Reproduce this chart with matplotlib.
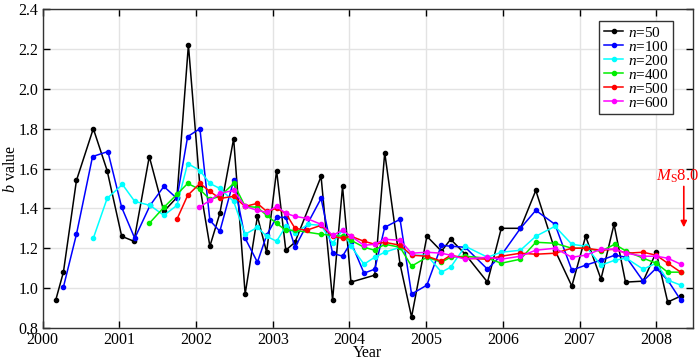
#b value time series for different sample window sizes n
import numpy as np
import matplotlib as mpl
import matplotlib.pyplot as plt

mpl.rcParams['font.family'] = ['Liberation Serif', 'DejaVu Serif']
mpl.rcParams['mathtext.fontset'] = 'custom'
mpl.rcParams['mathtext.rm'] = 'Liberation Serif'
mpl.rcParams['mathtext.it'] = 'Liberation Serif:italic'

#%%
#data
t_50 = [2000.17, 2000.27, 2000.44, 2000.66, 2000.84, 2001.03, 2001.19, 2001.39, 2001.58, 2001.75,
        2001.90, 2002.05, 2002.18, 2002.31, 2002.49, 2002.64, 2002.80, 2002.92, 2003.05, 2003.17,
        2003.29, 2003.63, 2003.78, 2003.91, 2004.02, 2004.33, 2004.46, 2004.66, 2004.81, 2005.01,
        2005.20, 2005.32, 2005.51, 2005.80, 2005.98, 2006.23, 2006.43, 2006.68, 2006.90, 2007.08,
        2007.28, 2007.45, 2007.60, 2007.83, 2008.00, 2008.15, 2008.32]
b_50 = [0.94, 1.08, 1.54, 1.80, 1.59, 1.26, 1.235, 1.66, 1.385, 1.455,
        2.22, 1.51, 1.21, 1.375, 1.75, 0.97, 1.36, 1.18, 1.59, 1.19,
        1.23, 1.56, 0.94, 1.51, 1.03, 1.065, 1.68, 1.12, 0.855, 1.26,
        1.185, 1.245, 1.17, 1.03, 1.30, 1.30, 1.49, 1.19, 1.01, 1.26,
        1.045, 1.32, 1.03, 1.035, 1.18, 0.93, 0.96]

t_100 = [2000.27, 2000.44, 2000.65, 2000.85, 2001.03, 2001.20, 2001.40, 2001.58, 2001.75, 2001.89,
         2002.05, 2002.18, 2002.31, 2002.49, 2002.64, 2002.80, 2002.92, 2003.05, 2003.17, 2003.29,
         2003.63, 2003.78, 2003.91, 2004.02, 2004.19, 2004.33, 2004.46, 2004.66, 2004.81, 2005.01,
         2005.20, 2005.32, 2005.51, 2005.80, 2005.98, 2006.23, 2006.43, 2006.68, 2006.90, 2007.08,
         2007.28, 2007.46, 2007.61, 2007.83, 2008.00, 2008.15, 2008.32]
b_100 = [1.005, 1.27, 1.66, 1.685, 1.405, 1.25, 1.415, 1.51, 1.45, 1.76,
         1.80, 1.34, 1.285, 1.54, 1.25, 1.13, 1.265, 1.355, 1.355, 1.205,
         1.45, 1.175, 1.16, 1.23, 1.075, 1.095, 1.305, 1.345, 0.97, 1.015,
         1.215, 1.21, 1.205, 1.095, 1.165, 1.30, 1.39, 1.32, 1.09, 1.115,
         1.14, 1.165, 1.155, 1.035, 1.10, 1.04, 0.94]

t_200 = [2000.66, 2000.84, 2001.04, 2001.20, 2001.40, 2001.58, 2001.75, 2001.89, 2002.05, 2002.18,
         2002.31, 2002.49, 2002.64, 2002.80, 2002.92, 2003.05, 2003.17, 2003.29, 2003.46, 2003.63,
         2003.78, 2003.91, 2004.02, 2004.19, 2004.33, 2004.46, 2004.66, 2004.81, 2005.01, 2005.20,
         2005.32, 2005.51, 2005.80, 2005.98, 2006.23, 2006.43, 2006.68, 2006.90, 2007.08, 2007.28,
         2007.46, 2007.61, 2007.83, 2008.00, 2008.15, 2008.32]
b_200 = [1.25, 1.45, 1.52, 1.435, 1.415, 1.365, 1.415, 1.625, 1.59, 1.525,
         1.50, 1.435, 1.27, 1.305, 1.26, 1.235, 1.31, 1.275, 1.32, 1.315,
         1.225, 1.29, 1.21, 1.12, 1.155, 1.18, 1.205, 1.165, 1.165, 1.08,
         1.105, 1.21, 1.155, 1.18, 1.19, 1.26, 1.31, 1.22, 1.21, 1.115,
         1.14, 1.15, 1.095, 1.125, 1.04, 1.015]

t_400 = [2001.39, 2001.58, 2001.75, 2001.89, 2002.05, 2002.18, 2002.31, 2002.49, 2002.64, 2002.80,
         2002.92, 2003.05, 2003.17, 2003.29, 2003.63, 2003.78, 2003.91, 2004.02, 2004.19, 2004.33,
         2004.46, 2004.66, 2004.81, 2005.01, 2005.20, 2005.32, 2005.51, 2005.80, 2005.98, 2006.23,
         2006.43, 2006.68, 2006.90, 2007.08, 2007.28, 2007.46, 2007.61, 2007.83, 2008.00, 2008.15,
         2008.32]
b_400 = [1.325, 1.405, 1.47, 1.525, 1.495, 1.445, 1.46, 1.525, 1.41, 1.405,
         1.365, 1.325, 1.29, 1.29, 1.27, 1.265, 1.26, 1.24, 1.205, 1.19,
         1.22, 1.205, 1.11, 1.155, 1.13, 1.155, 1.16, 1.15, 1.125, 1.145,
         1.23, 1.225, 1.20, 1.20, 1.185, 1.22, 1.185, 1.15, 1.125, 1.08,
         1.08]

t_500 = [2001.75, 2001.89, 2002.05, 2002.18, 2002.31, 2002.49, 2002.64, 2002.80, 2002.92, 2003.05,
         2003.17, 2003.29, 2003.44, 2003.63, 2003.78, 2003.91, 2004.02, 2004.19, 2004.33, 2004.46,
         2004.66, 2004.81, 2005.01, 2005.20, 2005.32, 2005.51, 2005.80, 2005.98, 2006.23, 2006.43,
         2006.68, 2006.90, 2007.08, 2007.28, 2007.46, 2007.61, 2007.83, 2008.00, 2008.15, 2008.32]
b_500 = [1.345, 1.465, 1.525, 1.485, 1.45, 1.46, 1.41, 1.425, 1.385, 1.40,
         1.375, 1.30, 1.29, 1.315, 1.26, 1.25, 1.26, 1.235, 1.22, 1.23,
         1.215, 1.165, 1.16, 1.135, 1.165, 1.15, 1.145, 1.16, 1.175, 1.17,
         1.175, 1.20, 1.20, 1.19, 1.195, 1.175, 1.18, 1.165, 1.125, 1.08]

t_600 = [2002.04, 2002.18, 2002.31, 2002.49, 2002.64, 2002.80, 2002.92, 2003.05, 2003.17, 2003.29,
         2003.44, 2003.63, 2003.78, 2003.91, 2004.02, 2004.19, 2004.33, 2004.46, 2004.66, 2004.81,
         2005.01, 2005.20, 2005.32, 2005.51, 2005.80, 2005.98, 2006.23, 2006.43, 2006.68, 2006.90,
         2007.08, 2007.28, 2007.46, 2007.61, 2007.83, 2008.00, 2008.15, 2008.32]
b_600 = [1.405, 1.44, 1.475, 1.49, 1.41, 1.39, 1.38, 1.41, 1.375, 1.36,
         1.35, 1.32, 1.265, 1.29, 1.26, 1.215, 1.22, 1.245, 1.24, 1.175,
         1.18, 1.175, 1.165, 1.145, 1.155, 1.145, 1.16, 1.19, 1.20, 1.155,
         1.165, 1.195, 1.195, 1.175, 1.16, 1.16, 1.15, 1.12]

series = [(t_50, b_50, 'k', '50'),
          (t_100, b_100, '#0000ff', '100'),
          (t_200, b_200, '#00ffff', '200'),
          (t_400, b_400, '#00ee00', '400'),
          (t_500, b_500, '#ff0000', '500'),
          (t_600, b_600, '#ff00ff', '600')]

year_ticks = list(range(2000, 2009))
b_ticks = [0.8, 1.0, 1.2, 1.4, 1.6, 1.8, 2.0, 2.2, 2.4]

#earthquake marker
eq_time = 2008.36

#%%
fig = plt.figure(figsize=(7.0, 3.62), dpi=100)
ax = fig.add_axes([0.061, 0.094, 0.929, 0.881])

for t, b, c, n in series:
    ax.plot(t, b, '-o', color=c, lw=1.1, ms=3.0, label='$n$=' + n)

ax.set_xlim(2000, 2008.48)
ax.set_ylim(0.8, 2.4)
ax.set_xticks(year_ticks)
ax.set_yticks(b_ticks)
ax.yaxis.set_major_formatter(mpl.ticker.FormatStrFormatter('%.1f'))
ax.grid(True, color='#e3e3e3', lw=1.0)
ax.set_axisbelow(True)
ax.tick_params(direction='in', top=True, right=True, length=5, width=1,
               labelsize=11.5)
ax.tick_params(axis='x', pad=3)
ax.tick_params(axis='y', pad=3)
for s in ax.spines.values():
    s.set_linewidth(1.0)
    s.set_color('#333333')

ax.set_xlabel('Year', fontsize=11.5, labelpad=-2.5)
ax.set_ylabel('$b$ value', fontsize=11.5, labelpad=0)

ax.annotate('', xy=(eq_time, 1.305), xytext=(eq_time, 1.51),
            arrowprops=dict(arrowstyle='-|>', color='red', lw=1.2,
                            mutation_scale=9, shrinkA=0, shrinkB=0))
fig.text(0.999, 1 - 181 / 362, '$M_{\\mathrm{S}}$8.0', color='red', fontsize=12,
         ha='right', va='baseline')

leg = ax.legend(loc='upper right', bbox_to_anchor=(0.969, 0.962), fontsize=11,
                handlelength=1.25, handletextpad=0.3, labelspacing=0.0,
                borderpad=0.3, borderaxespad=0, fancybox=False, framealpha=1)
leg.get_frame().set_edgecolor('#333333')
leg.get_frame().set_linewidth(1.0)

plt.savefig('out.png', dpi=100)
